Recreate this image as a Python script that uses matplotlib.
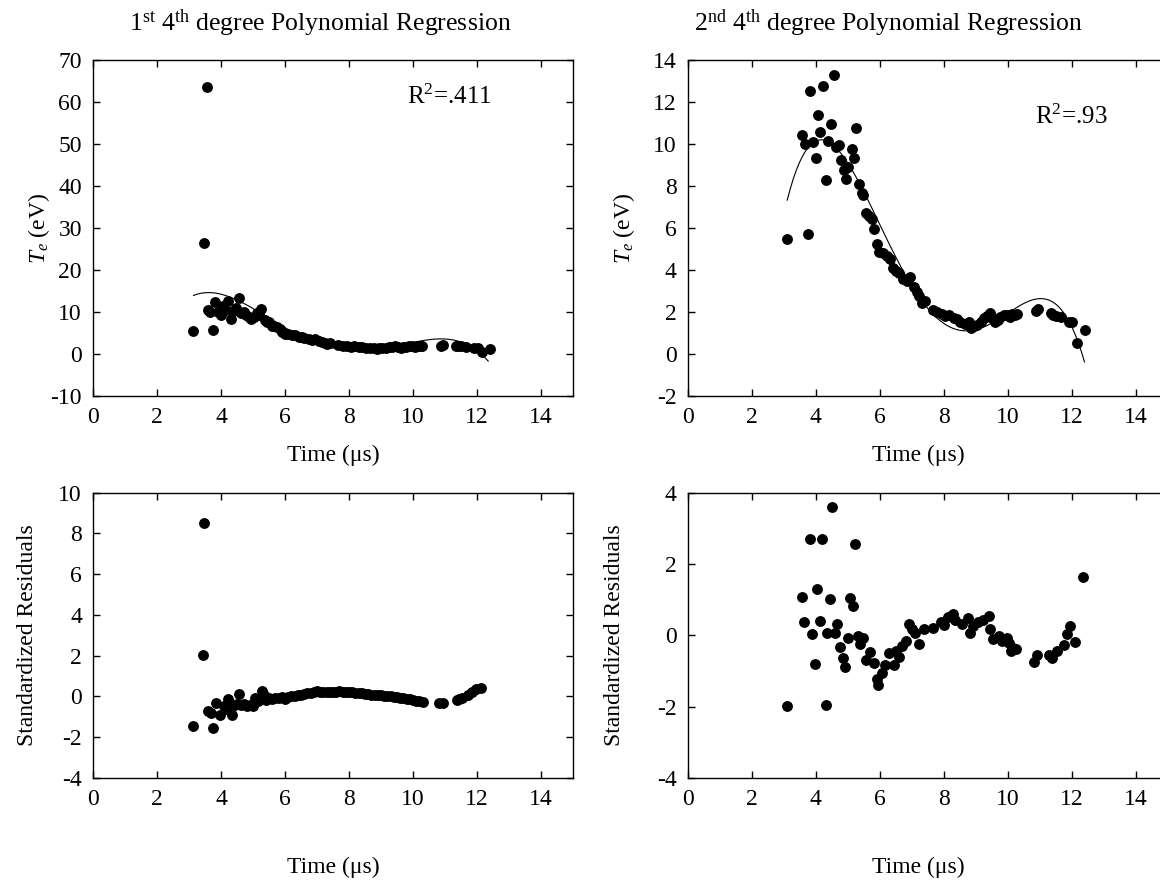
import numpy as np
import matplotlib
matplotlib.use('Agg')
import matplotlib.pyplot as plt

plt.rcParams['font.family'] = ['Liberation Serif', 'DejaVu Serif']
plt.rcParams['mathtext.fontset'] = 'custom'
plt.rcParams['mathtext.rm'] = 'Liberation Serif'
plt.rcParams['mathtext.it'] = 'Liberation Serif:italic'
plt.rcParams['axes.unicode_minus'] = False

# Electron temperature vs time (outliers removed for 2nd regression)
time_us = [3.11, 3.58, 3.67, 3.75, 3.82, 3.90, 4.01, 4.06, 4.14, 4.23, 4.31, 4.38,
           4.47, 4.56, 4.64, 4.72, 4.79, 4.89, 4.95, 5.02, 5.12, 5.19, 5.26, 5.36,
           5.45, 5.49, 5.58, 5.67, 5.75, 5.83, 5.91, 5.99, 6.10, 6.22, 6.32, 6.43,
           6.52, 6.59, 6.74, 6.85, 6.95, 7.06, 7.16, 7.24, 7.32, 7.40, 7.66, 7.80,
           7.94, 8.05, 8.15, 8.31, 8.40, 8.52, 8.65, 8.78, 8.86, 8.95, 9.04, 9.15,
           9.25, 9.35, 9.44, 9.52, 9.61, 9.70, 9.77, 9.88, 9.98, 10.06, 10.14, 10.22,
           10.29, 10.87, 10.95, 11.34, 11.42, 11.50, 11.65, 11.91, 12.02, 12.15, 12.40]
te_ev = [5.50, 10.45, 10.02, 5.72, 12.53, 10.10, 9.35, 11.39, 10.60, 12.77, 8.30, 10.18,
         10.99, 13.33, 9.88, 9.99, 9.24, 8.80, 8.35, 8.92, 9.78, 9.37, 10.79, 8.13,
         7.70, 7.60, 6.73, 6.60, 6.45, 5.96, 5.26, 4.85, 4.80, 4.66, 4.55, 4.10,
         3.95, 3.86, 3.58, 3.47, 3.67, 3.22, 2.98, 2.75, 2.43, 2.55, 2.11, 2.00,
         1.92, 1.80, 1.85, 1.71, 1.65, 1.55, 1.45, 1.55, 1.24, 1.35, 1.40, 1.55,
         1.71, 1.80, 1.98, 1.70, 1.55, 1.62, 1.75, 1.85, 1.87, 1.75, 1.92, 1.85,
         1.92, 2.03, 2.14, 1.95, 1.85, 1.82, 1.79, 1.55, 1.55, 0.52, 1.15]

# two outliers that were still in the 1st regression
outlier_time = [3.47, 3.55]
outlier_te = [26.4, 63.7]

# 1st regression curve, sampled off the figure
fit1_time = [3.14, 3.66, 4.20, 4.90, 6.00, 7.00, 8.00, 9.00, 10.00, 10.80, 11.50, 12.35]
fit1_te = [14.0, 14.7, 13.8, 11.0, 6.5, 3.0, 0.6, 1.0, 2.9, 3.8, 2.8, -1.7]

# standardized residuals, 1st regression
res1_time = [3.13, 3.45, 3.48, 3.60, 3.70, 3.76, 3.85, 3.97, 4.09, 4.16, 4.23, 4.33,
             4.39, 4.50, 4.57, 4.63, 4.72, 4.81, 4.90, 4.99, 5.07, 5.15, 5.29, 5.35,
             5.41, 5.50, 5.60, 5.70, 5.80, 5.90, 6.00, 6.10, 6.20, 6.30, 6.40, 6.50,
             6.60, 6.70, 6.80, 6.90, 7.00, 7.10, 7.20, 7.30, 7.40, 7.50, 7.60, 7.70,
             7.80, 7.90, 8.00, 8.10, 8.20, 8.30, 8.40, 8.50, 8.60, 8.70, 8.80, 8.90,
             9.00, 9.10, 9.20, 9.30, 9.40, 9.50, 9.60, 9.70, 9.80, 9.90, 10.00, 10.10,
             10.20, 10.30, 10.82, 10.94, 11.36, 11.45, 11.54, 11.72, 11.84, 11.96, 12.14]
res1 = [-1.44, 2.04, 8.49, -0.73, -0.80, -1.55, -0.33, -0.90, -0.49, -0.60, -0.13, -0.90,
        -0.49, -0.35, 0.13, -0.41, -0.35, -0.46, -0.40, -0.49, -0.08, -0.20, 0.29, 0.05,
        -0.16, -0.10, -0.12, -0.08, -0.10, -0.05, -0.12, -0.05, 0.00, 0.03, 0.06, 0.08,
        0.12, 0.15, 0.18, 0.20, 0.25, 0.22, 0.24, 0.20, 0.23, 0.20, 0.22, 0.25,
        0.20, 0.22, 0.20, 0.22, 0.18, 0.16, 0.15, 0.12, 0.12, 0.08, 0.07, 0.05,
        0.05, 0.03, 0.02, 0.00, -0.02, -0.05, -0.08, -0.10, -0.14, -0.15, -0.18, -0.20,
        -0.24, -0.27, -0.33, -0.33, -0.16, -0.12, -0.08, 0.08, 0.24, 0.36, 0.41]

# standardized residuals, 2nd regression
res2_time = [3.11, 3.57, 3.64, 3.81, 3.88, 3.97, 4.05, 4.12, 4.19, 4.31, 4.36, 4.45,
             4.52, 4.59, 4.68, 4.77, 4.84, 4.93, 5.00, 5.08, 5.17, 5.24, 5.31, 5.38,
             5.48, 5.56, 5.71, 5.82, 5.91, 5.96, 6.06, 6.17, 6.29, 6.44, 6.52, 6.59,
             6.70, 6.83, 6.92, 7.00, 7.11, 7.24, 7.37, 7.65, 7.90, 8.00, 8.13, 8.29,
             8.36, 8.57, 8.76, 8.83, 8.90, 9.08, 9.24, 9.41, 9.46, 9.54, 9.72, 9.81,
             9.98, 10.04, 10.09, 10.17, 10.27, 10.82, 10.90, 11.29, 11.39, 11.55, 11.76, 11.86,
             11.96, 12.10, 12.34]
res2 = [-1.98, 1.07, 0.38, 2.71, 0.04, -0.80, 1.29, 0.41, 2.71, -1.95, 0.06, 1.01,
        3.58, 0.06, 0.32, -0.32, -0.64, -0.90, -0.08, 1.04, 0.81, 2.55, -0.01, -0.24,
        -0.08, -0.69, -0.46, -0.77, -1.23, -1.39, -1.05, -0.83, -0.50, -0.83, -0.43, -0.62,
        -0.30, -0.16, 0.32, 0.17, 0.06, -0.24, 0.17, 0.20, 0.38, 0.29, 0.52, 0.59,
        0.42, 0.32, 0.48, 0.06, 0.27, 0.38, 0.44, 0.54, 0.17, -0.11, -0.01, -0.17,
        -0.08, -0.22, -0.45, -0.36, -0.38, -0.74, -0.55, -0.55, -0.64, -0.45, -0.27, 0.04,
        0.25, -0.19, 1.62]

xticks = np.arange(0, 15, 2)
W, H = 1160, 880
FS = 17


def style_axes(ax, ylim, yticks):
    ax.set_xlim(0, 15)
    ax.set_ylim(*ylim)
    ax.set_xticks(xticks)
    ax.set_yticks(yticks)
    ax.tick_params(direction='in', top=True, right=True, length=5, width=1,
                   labelsize=FS, pad=8)
    for sp in ax.spines.values():
        sp.set_linewidth(1.0)


def poly_line(ax, x, y):
    # 4th degree polynomial through the given points
    coef = np.polyfit(x, y, 4)
    xs = np.linspace(min(x), max(x), 200)
    ax.plot(xs, np.polyval(coef, xs), color='black', linewidth=0.8)


fig = plt.figure(figsize=(W / 100, H / 100), dpi=100)
ax_tl = fig.add_axes([93 / W, (H - 396) / H, 480 / W, 335.5 / H])
ax_tr = fig.add_axes([687.7 / W, (H - 396) / H, 480 / W, 335.5 / H])
ax_bl = fig.add_axes([93 / W, (H - 778) / H, 480 / W, 285.5 / H])
ax_br = fig.add_axes([687.7 / W, (H - 778) / H, 480 / W, 285.5 / H])

mk = dict(linestyle='none', marker='o', markersize=6.8, color='black')

# 1st regression, with outliers
ax_tl.plot(time_us + outlier_time, te_ev + outlier_te, **mk)
poly_line(ax_tl, fit1_time, fit1_te)
style_axes(ax_tl, (-10, 70), np.arange(-10, 71, 10))
ax_tl.text(0.655, 0.87, r'R$^2$=.411', transform=ax_tl.transAxes, fontsize=18)
ax_tl.text(0.473, 1.112, r'1$^{\rm st}$ 4$^{\rm th}$ degree Polynomial Regression',
           transform=ax_tl.transAxes, ha='center', va='center', fontsize=18.5)

# 2nd regression
ax_tr.plot(time_us, te_ev, **mk)
poly_line(ax_tr, time_us, te_ev)
style_axes(ax_tr, (-2, 14), np.arange(-2, 15, 2))
ax_tr.text(0.723, 0.81, r'R$^2$=.93', transform=ax_tr.transAxes, fontsize=18)
ax_tr.text(0.417, 1.112, r'2$^{\rm nd}$ 4$^{\rm th}$ degree Polynomial Regression',
           transform=ax_tr.transAxes, ha='center', va='center', fontsize=18.5)

ax_bl.plot(res1_time, res1, **mk)
style_axes(ax_bl, (-4, 10), np.arange(-4, 11, 2))

ax_br.plot(res2_time, res2, **mk)
style_axes(ax_br, (-4, 4), np.arange(-4, 5, 2))

for ax in (ax_tl, ax_tr):
    ax.set_xlabel('Time (μs)', fontsize=FS)
    ax.xaxis.set_label_coords(0.5 if ax is ax_tl else 0.48, -0.145)
    ax.set_ylabel(r'$T_e$ (eV)', fontsize=FS)
ax_tl.yaxis.set_label_coords(-0.085, 0.5)
ax_tr.yaxis.set_label_coords(-0.105, 0.5)

for ax in (ax_bl, ax_br):
    ax.set_xlabel('Time (μs)', fontsize=FS)
    ax.xaxis.set_label_coords(0.5 if ax is ax_bl else 0.48, -0.275)
    ax.set_ylabel('Standardized Residuals', fontsize=FS)
ax_bl.yaxis.set_label_coords(-0.115, 0.5)
ax_br.yaxis.set_label_coords(-0.13, 0.5)

fig.savefig('out.png', dpi=100)
